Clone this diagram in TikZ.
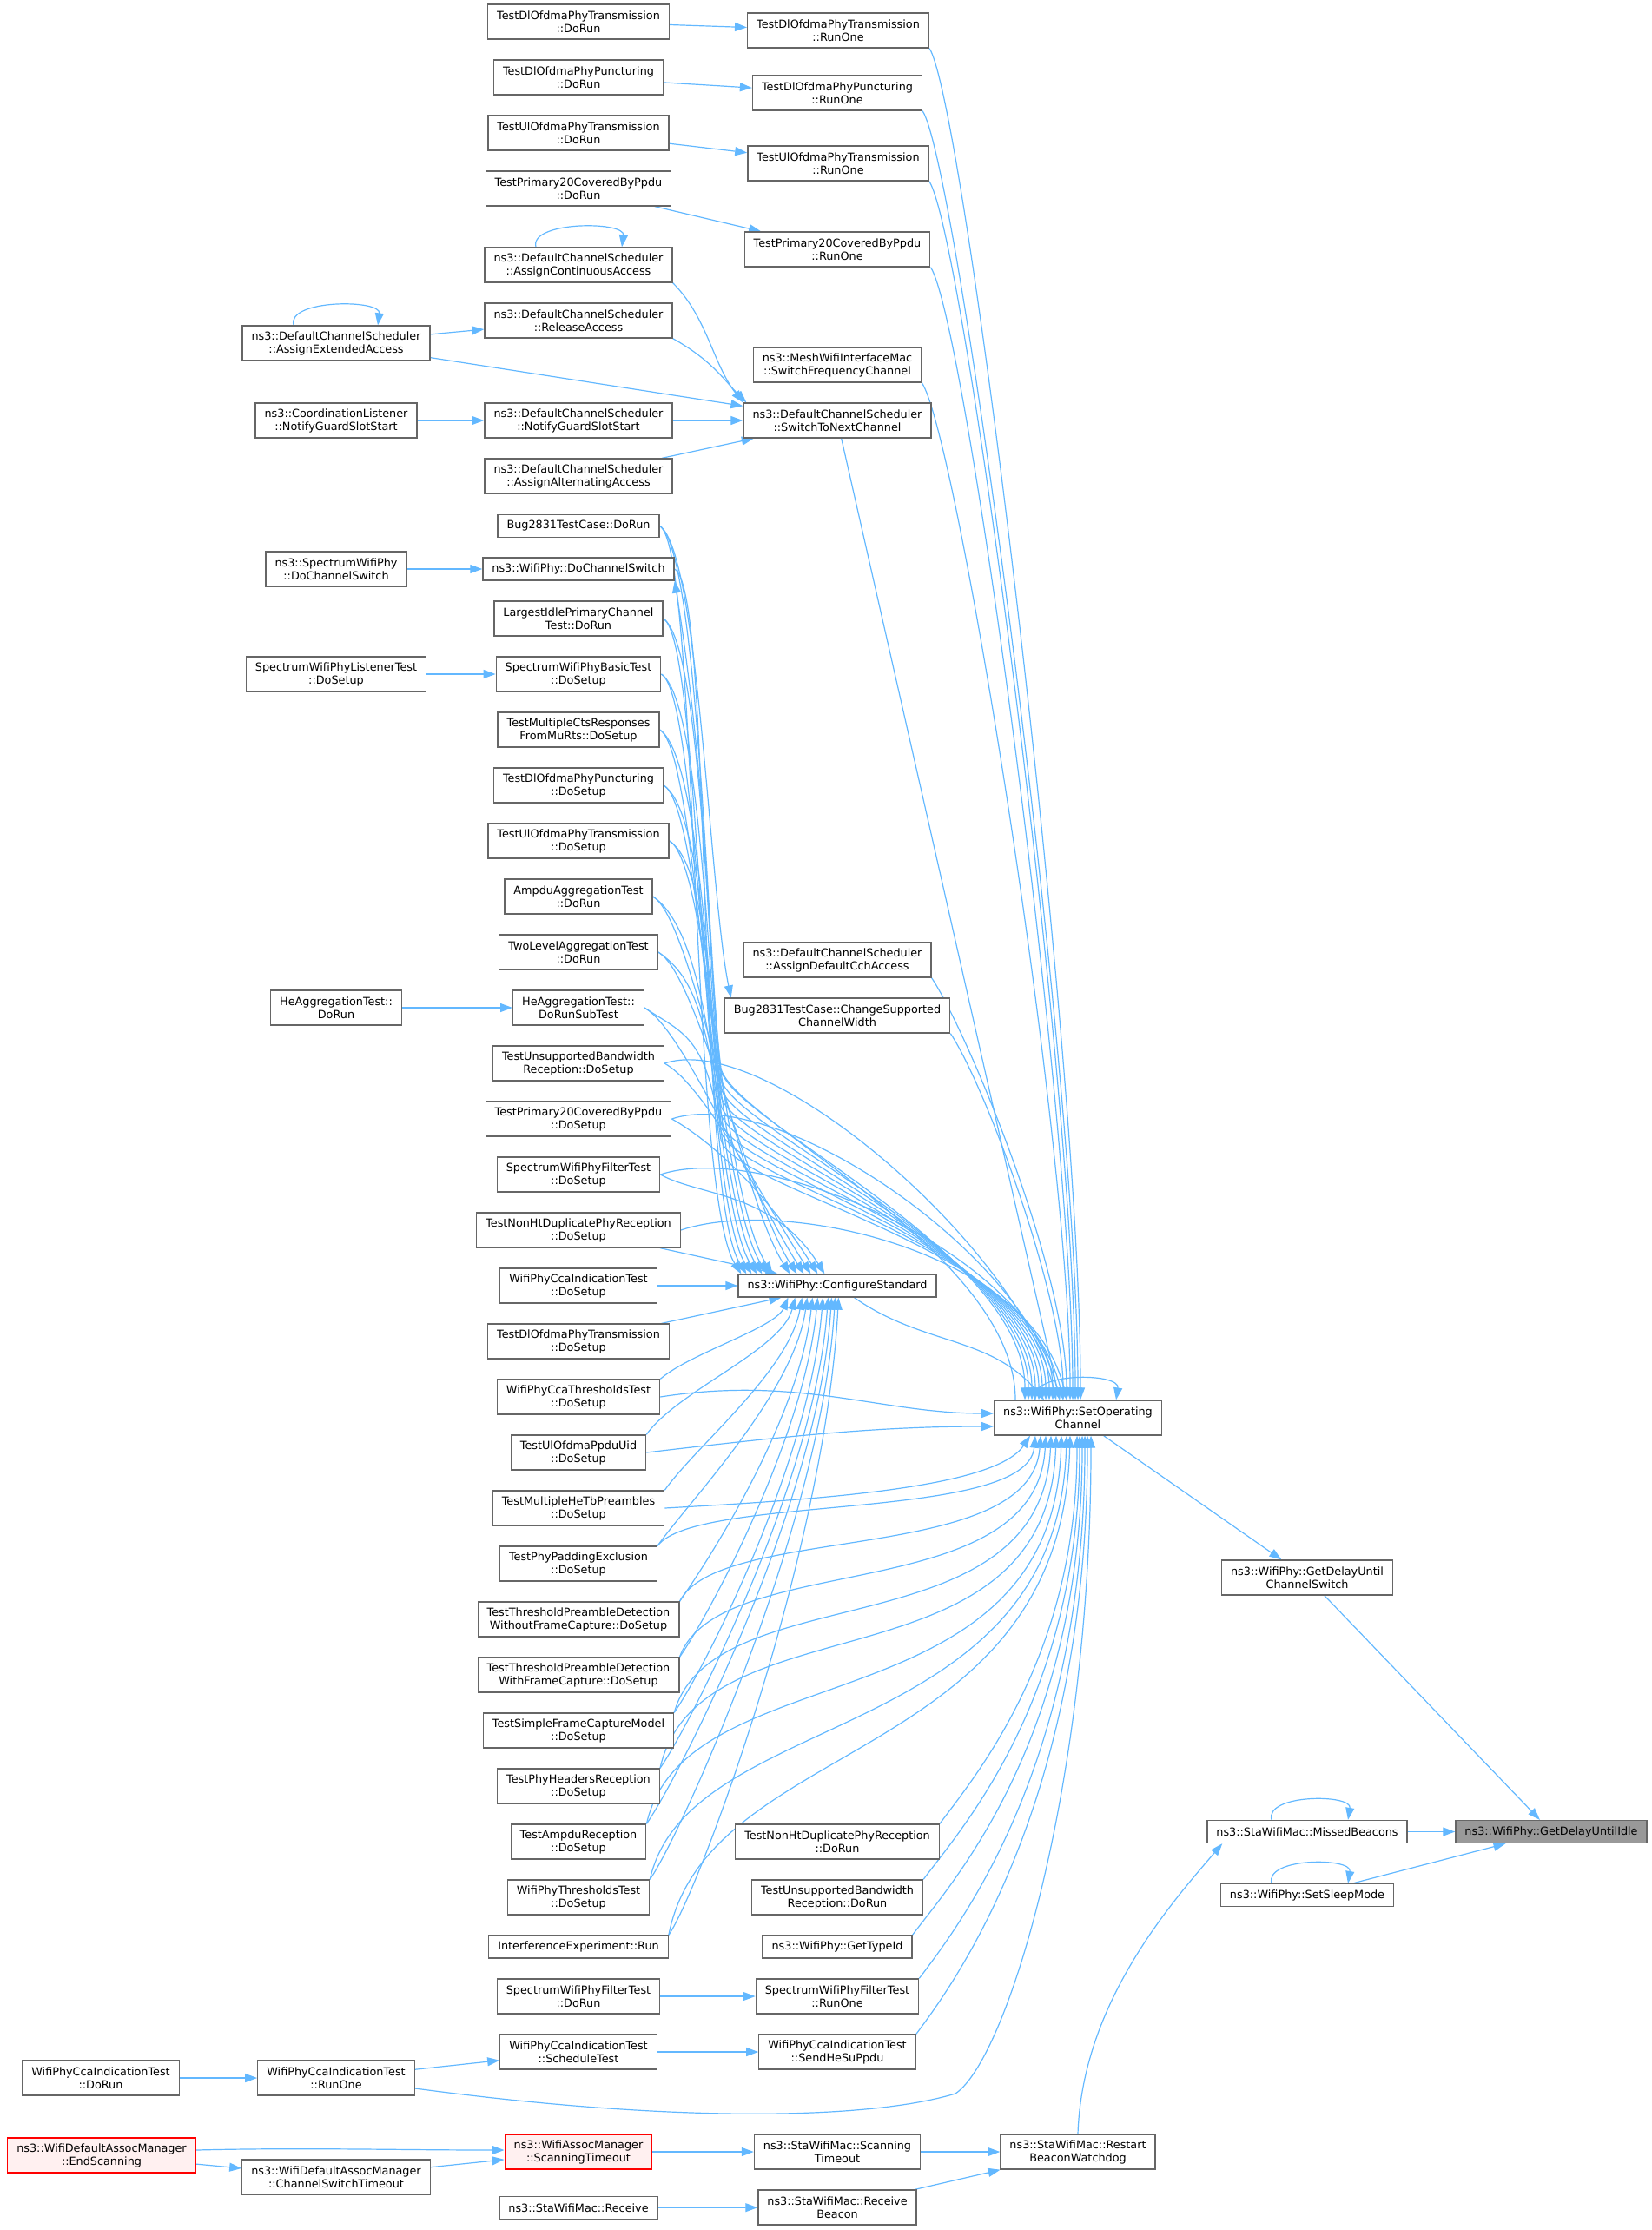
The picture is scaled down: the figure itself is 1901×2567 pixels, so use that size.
\documentclass[tikz,border=0pt]{standalone}
\usepackage{fontspec}
\setmainfont{DejaVu Sans}
\usetikzlibrary{arrows.meta}
\definecolor{edgeblue}{HTML}{63B8FF}
\definecolor{boxgrey}{HTML}{666666}
\definecolor{warnfill}{HTML}{FFF0F0}
\pgfdeclarelayer{links}
\pgfsetlayers{links,main}

\begin{document}
\begin{tikzpicture}[x=1pt, y=1pt,
  fn/.style={draw=boxgrey, fill=white, line width=1.3pt, align=center,
    font=\fontsize{12.8}{15}\selectfont, inner xsep=10.5pt, inner ysep=0pt,
    minimum height=26pt},
  fn2/.style={fn, minimum height=40pt},
  redfn/.style={fn2, draw=red, fill=warnfill},
  rootfn/.style={fn, fill=black!40},
  link/.style={draw=edgeblue, line width=1.2pt},
  >={Triangle[length=14pt,width=10pt]}]
\useasboundingbox (0,0) rectangle (1901,-2567);

\node[fn2] (ccaDoRun) at (116,-2392) {WifiPhyCcaIndicationTest\\::DoRun};
\node[redfn] (endScan) at (117,-2481) {ns3::WifiDefaultAssocManager\\::EndScanning};

\node[fn2] (extAccess) at (387,-395) {ns3::DefaultChannelScheduler\\::AssignExtendedAccess};
\node[fn2] (coordGuard) at (387,-484) {ns3::CoordinationListener\\::NotifyGuardSlotStart};
\node[fn2] (specSwitch) at (387,-655) {ns3::SpectrumWifiPhy\\::DoChannelSwitch};
\node[fn2] (listenSetup) at (387,-776) {SpectrumWifiPhyListenerTest\\::DoSetup};
\node[fn2] (heDoRun) at (387,-1160) {HeAggregationTest::\\DoRun};
\node[fn2] (ccaRunOne) at (387,-2392) {WifiPhyCcaIndicationTest\\::RunOne};
\node[fn2] (switchTimeout) at (387,-2506) {ns3::WifiDefaultAssocManager\\::ChannelSwitchTimeout};

\node[fn2] (dlTxRun) at (666,-25) {TestDlOfdmaPhyTransmission\\::DoRun};
\node[fn2] (dlPuncRun) at (666,-89) {TestDlOfdmaPhyPuncturing\\::DoRun};
\node[fn2] (ulTxRun) at (666,-153) {TestUlOfdmaPhyTransmission\\::DoRun};
\node[fn2] (p20Run) at (666,-217) {TestPrimary20CoveredByPpdu\\::DoRun};
\node[fn2] (contAccess) at (666,-305) {ns3::DefaultChannelScheduler\\::AssignContinuousAccess};
\node[fn2] (relAccess) at (666,-369) {ns3::DefaultChannelScheduler\\::ReleaseAccess};
\node[fn2] (schedGuard) at (666,-484) {ns3::DefaultChannelScheduler\\::NotifyGuardSlotStart};
\node[fn2] (altAccess) at (666,-548) {ns3::DefaultChannelScheduler\\::AssignAlternatingAccess};
\node[fn] (bugRun) at (666,-605.5) {Bug2831TestCase::DoRun};
\node[fn] (phySwitch) at (666,-655) {ns3::WifiPhy::DoChannelSwitch};
\node[fn2] (idleRun) at (666,-712) {LargestIdlePrimaryChannel\\Test::DoRun};
\node[fn2] (basicSetup) at (666,-776) {SpectrumWifiPhyBasicTest\\::DoSetup};
\node[fn2] (ctsSetup) at (666,-840) {TestMultipleCtsResponses\\FromMuRts::DoSetup};
\node[fn2] (dlPuncSetup) at (666,-904) {TestDlOfdmaPhyPuncturing\\::DoSetup};
\node[fn2] (ulTxSetup) at (666,-968) {TestUlOfdmaPhyTransmission\\::DoSetup};
\node[fn2] (ampduAgg) at (666,-1032) {AmpduAggregationTest\\::DoRun};
\node[fn2] (twoLevel) at (666,-1096) {TwoLevelAggregationTest\\::DoRun};
\node[fn2] (heSub) at (666,-1160) {HeAggregationTest::\\DoRunSubTest};
\node[fn2] (unsupSetup) at (666,-1224) {TestUnsupportedBandwidth\\Reception::DoSetup};
\node[fn2] (p20Setup) at (666,-1288) {TestPrimary20CoveredByPpdu\\::DoSetup};
\node[fn2] (filterSetup) at (666,-1352) {SpectrumWifiPhyFilterTest\\::DoSetup};
\node[fn2] (nonHtSetup) at (666,-1416) {TestNonHtDuplicatePhyReception\\::DoSetup};
\node[fn2] (ccaSetup) at (666,-1480) {WifiPhyCcaIndicationTest\\::DoSetup};
\node[fn2] (dlTxSetup) at (666,-1544) {TestDlOfdmaPhyTransmission\\::DoSetup};
\node[fn2] (ccaThrSetup) at (666,-1608) {WifiPhyCcaThresholdsTest\\::DoSetup};
\node[fn2] (ppduUidSetup) at (666,-1672) {TestUlOfdmaPpduUid\\::DoSetup};
\node[fn2] (heTbSetup) at (666,-1736) {TestMultipleHeTbPreambles\\::DoSetup};
\node[fn2] (paddingSetup) at (666,-1800) {TestPhyPaddingExclusion\\::DoSetup};
\node[fn2] (tpdNoCapSetup) at (666,-1864) {TestThresholdPreambleDetection\\WithoutFrameCapture::DoSetup};
\node[fn2] (tpdCapSetup) at (666,-1928) {TestThresholdPreambleDetection\\WithFrameCapture::DoSetup};
\node[fn2] (sfcSetup) at (666,-1992) {TestSimpleFrameCaptureModel\\::DoSetup};
\node[fn2] (phyHdrSetup) at (666,-2056) {TestPhyHeadersReception\\::DoSetup};
\node[fn2] (ampduRxSetup) at (666,-2120) {TestAmpduReception\\::DoSetup};
\node[fn2] (thrSetup) at (666,-2184) {WifiPhyThresholdsTest\\::DoSetup};
\node[fn] (interfRun) at (666,-2241) {InterferenceExperiment::Run};
\node[fn2] (filterRun) at (666,-2298) {SpectrumWifiPhyFilterTest\\::DoRun};
\node[fn2] (schedTest) at (666,-2362) {WifiPhyCcaIndicationTest\\::ScheduleTest};
\node[redfn] (assocTimeout) at (666,-2477) {ns3::WifiAssocManager\\::ScanningTimeout};
\node[fn] (staRecv) at (666,-2541.5) {ns3::StaWifiMac::Receive};

\node[fn2] (dlTxOne) at (965,-35) {TestDlOfdmaPhyTransmission\\::RunOne};
\node[fn2] (dlPuncOne) at (964,-107) {TestDlOfdmaPhyPuncturing\\::RunOne};
\node[fn2] (ulTxOne) at (965,-188) {TestUlOfdmaPhyTransmission\\::RunOne};
\node[fn2] (p20One) at (964,-287) {TestPrimary20CoveredByPpdu\\::RunOne};
\node[fn2] (meshSwitch) at (964,-420) {ns3::MeshWifiInterfaceMac\\::SwitchFrequencyChannel};
\node[fn2] (nextChannel) at (964,-484) {ns3::DefaultChannelScheduler\\::SwitchToNextChannel};
\node[fn2] (cchAccess) at (964,-1105) {ns3::DefaultChannelScheduler\\::AssignDefaultCchAccess};
\node[fn2] (chanWidth) at (964,-1169) {Bug2831TestCase::ChangeSupported\\ChannelWidth};
\node[fn] (confStd) at (964,-1480) {ns3::WifiPhy::ConfigureStandard};
\node[fn2] (nonHtRun) at (964,-2120) {TestNonHtDuplicatePhyReception\\::DoRun};
\node[fn2] (unsupRun) at (964,-2184) {TestUnsupportedBandwidth\\Reception::DoRun};
\node[fn] (typeId) at (964,-2241) {ns3::WifiPhy::GetTypeId};
\node[fn2] (filterOne) at (964,-2298) {SpectrumWifiPhyFilterTest\\::RunOne};
\node[fn2] (sendHeSu) at (964,-2362) {WifiPhyCcaIndicationTest\\::SendHeSuPpdu};
\node[fn2] (staScanTimeout) at (964,-2477) {ns3::StaWifiMac::Scanning\\Timeout};
\node[fn2] (recvBeacon) at (964,-2541) {ns3::StaWifiMac::Receive\\Beacon};

\node[fn2] (setOp) at (1241,-1632) {ns3::WifiPhy::SetOperating\\Channel};
\node[fn2] (watchdog) at (1241,-2477) {ns3::StaWifiMac::Restart\\BeaconWatchdog};

\node[fn2] (chanSwitch) at (1505,-1816) {ns3::WifiPhy::GetDelayUntil\\ChannelSwitch};
\node[fn] (missed) at (1505,-2108.5) {ns3::StaWifiMac::MissedBeacons};
\node[fn] (sleep) at (1505,-2181.5) {ns3::WifiPhy::SetSleepMode};

\node[rootfn] (idle) at (1786,-2108.5) {ns3::WifiPhy::GetDelayUntilIdle};

\begin{pgfonlayer}{links}
% short calls between neighbours
\draw[link,->] (dlTxRun) -- (dlTxOne);
\draw[link,->] (dlPuncRun) -- (dlPuncOne);
\draw[link,->] (ulTxRun) -- (ulTxOne);
\draw[link,->] (p20Run) -- (p20One);
\draw[link,->] (extAccess) -- (relAccess);
\draw[link,->] (extAccess) -- (nextChannel);
\draw[link,->] (contAccess.south east) .. controls +(40,-40) and +(-35,45) .. (nextChannel.north west);
\draw[link,->] (relAccess.south east) .. controls +(45,-25) and +(-25,25) .. ([xshift=4]nextChannel.north west);
\draw[link,->] (coordGuard) -- (schedGuard);
\draw[link,->] (schedGuard) -- (nextChannel);
\draw[link,->] (altAccess) -- (nextChannel);
\draw[link,->] (specSwitch) -- (phySwitch);
\draw[link,->] (listenSetup) -- (basicSetup);
\draw[link,->] (heDoRun) -- (heSub);
\draw[link,->] (ccaDoRun) -- (ccaRunOne);
\draw[link,->] (ccaRunOne) -- (schedTest);
\draw[link,->] (schedTest) -- (sendHeSu);
\draw[link,->] (filterRun) -- (filterOne);
\draw[link,->] ([yshift=6]endScan.east) .. controls +(120,3) and +(-120,0) .. ([yshift=2]assocTimeout.west);
\draw[link,->] (endScan) -- (switchTimeout);
\draw[link,->] (switchTimeout) -- (assocTimeout);
\draw[link,->] (assocTimeout) -- (staScanTimeout);
\draw[link,->] (staRecv) -- (recvBeacon);
\draw[link,->] (staScanTimeout) -- (watchdog);
\draw[link,->] (recvBeacon) -- (watchdog);
\draw[link,->] (watchdog.north) .. controls +(5,150) and +(-60,-70) .. ([xshift=18]missed.south west);
\draw[link,->] (missed) -- (idle);
\draw[link,->] (sleep) -- (idle);
\draw[link,->] (chanSwitch) -- (idle);
\draw[link,->] (setOp) -- (chanSwitch);
\draw[link,->] (confStd) to[out=-35,in=130] ([xshift=58]setOp.north west);
\draw[link,->] (bugRun.east) .. controls +(45,-30) and +(-25,120) .. ([xshift=8]chanWidth.north west);
% recursive calls
\draw[link,->] ([xshift=-49]contAccess.north) .. controls +(-8,30) and +(4,30) .. ([xshift=50]contAccess.north);
\draw[link,->] ([xshift=-49]extAccess.north) .. controls +(-8,30) and +(4,30) .. ([xshift=48]extAccess.north);
\draw[link,->] ([xshift=-49]setOp.north) .. controls +(-10,32) and +(5,32) .. ([xshift=44]setOp.north);
\draw[link,->] ([xshift=-41]missed.north) .. controls +(-8,30) and +(5,30) .. ([xshift=47]missed.north);
\draw[link,->] ([xshift=-41]sleep.north) .. controls +(-8,30) and +(5,30) .. ([xshift=47]sleep.north);
% into ConfigureStandard
\foreach \n/\d in {bugRun/4, phySwitch/10, idleRun/16, basicSetup/22, ctsSetup/28, dlPuncSetup/34,
    ulTxSetup/40, ampduAgg/60, twoLevel/68, heSub/76, unsupSetup/84, p20Setup/92, filterSetup/100}
  \draw[link,->] (\n.east) .. controls +(45,-25) and +(-60,95) .. ([xshift=\d]confStd.north west);
\draw[link,->] (nonHtSetup) -- ([xshift=46]confStd.north west);
\draw[link,->] (ccaSetup) -- (confStd);
\draw[link,->] (dlTxSetup) -- ([xshift=50]confStd.south west);
\foreach \n/\u/\v/\d in {ccaThrSetup/30/35/58, ppduUidSetup/50/60/66, heTbSetup/50/85/74,
    paddingSetup/50/110/80, tpdNoCapSetup/50/140/86, tpdCapSetup/50/160/92, sfcSetup/50/190/98,
    phyHdrSetup/50/210/104, ampduRxSetup/50/240/108, thrSetup/50/260/112, interfRun/50/290/116}
  \draw[link,->] (\n.north east) .. controls +(35,\u) and +(-15,-\v) .. ([xshift=\d]confStd.south west);
% into SetOperatingChannel from above
\foreach \n/\h/\d in {bugRun/1232/36, idleRun/1242/40, basicSetup/1252/44, ctsSetup/1262/48,
    dlPuncSetup/1272/52, ulTxSetup/1282/56, ampduAgg/1292/60, twoLevel/1302/64, heSub/1312/68}
  \draw[link,->] (\n.east) .. controls +(45,-30) and (815,{120-\h}) .. (830,-\h)
    .. controls (845,{-\h-60}) and +(0,170) .. ([xshift=\d]setOp.north west);
\foreach \n/\d in {unsupSetup/72, p20Setup/76, filterSetup/80, nonHtSetup/84}
  \draw[link,->] (\n.east) .. controls +(120,40) and +(-40,170) .. ([xshift=\d]setOp.north west);
\foreach \n/\v/\d in {dlTxOne/400/100, dlPuncOne/380/97, ulTxOne/360/94, p20One/330/91,
    meshSwitch/300/88, cchAccess/150/84, chanWidth/120/80}
  \draw[link,->] (\n.south east) .. controls +(40,-60) and +(0,\v) .. ([xshift=\d]setOp.north west);
\draw[link,->] (nextChannel) -- ([xshift=76]setOp.north west);
% into SetOperatingChannel from the side and below
\draw[link,->] (ccaThrSetup.east) .. controls +(160,25) and +(-130,0) .. ([yshift=5]setOp.west);
\draw[link,->] (ppduUidSetup.east) .. controls +(170,20) and +(-130,0) .. ([yshift=-10]setOp.west);
\draw[link,->] (heTbSetup.east) .. controls +(180,10) and +(-40,-60) .. ([xshift=42]setOp.south west);
\foreach \n/\u/\v/\d in {paddingSetup/60/100/48, tpdNoCapSetup/90/150/54, tpdCapSetup/125/200/60,
    sfcSetup/160/250/66, phyHdrSetup/200/300/72, ampduRxSetup/200/340/78, thrSetup/200/360/84,
    interfRun/230/380/88}
  \draw[link,->] (\n.north east) .. controls +(45,\u) and +(-10,-\v) .. ([xshift=\d]setOp.south west);
\foreach \n/\v/\d in {nonHtRun/250/96, unsupRun/300/99, typeId/350/102, filterOne/380/105, sendHeSu/420/108}
  \draw[link,->] (\n.north east) .. controls +(45,60) and +(0,-\v) .. ([xshift=\d]setOp.south west);
\draw[link,->] ([yshift=-12]ccaRunOne.east) .. controls +(300,-40) and (1000,-2440) .. (1100,-2410)
  .. controls (1160,-2370) and +(0,-400) .. ([xshift=112]setOp.south west);
% channel switch back into the PHY
\draw[link,->] ([xshift=25]setOp.north west) .. controls +(0,170) and (845,-1290) .. (830,-1230)
  .. controls (815,-1110) and +(40,-250) .. (phySwitch.south east);
\end{pgfonlayer}
\end{tikzpicture}
\end{document}
